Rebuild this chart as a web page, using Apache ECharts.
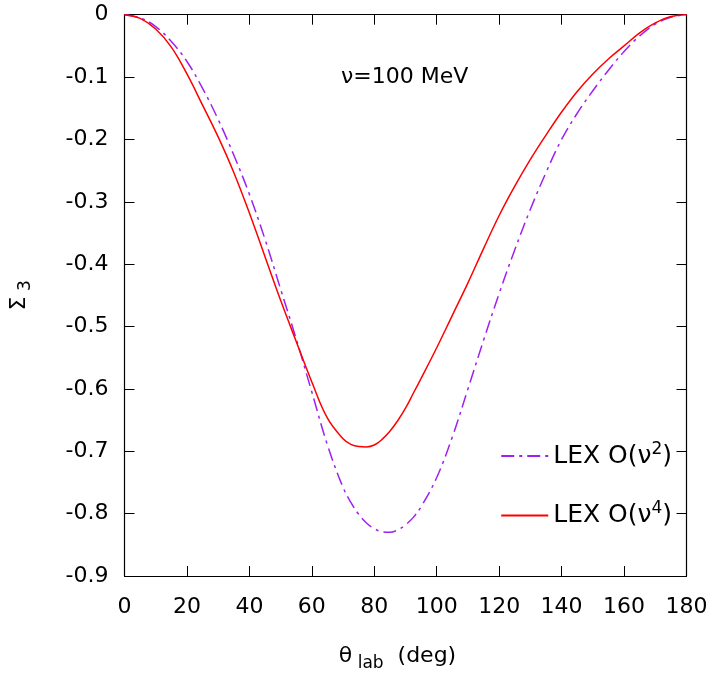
<!DOCTYPE html>
<html>
<head>
<meta charset="utf-8">
<script src="https://cdn.jsdelivr.net/npm/echarts@6/dist/echarts.min.js"></script>
<style>html,body{margin:0;padding:0;background:#fff}#c{width:714px;height:677px}</style>
</head>
<body>
<div id="c"></div>
<script>
// theta_lab (deg)
const theta = [0,5,10,15,20,25,30,35,40,45,50,55,60,65,70,72.5,75,77.5,80,82.5,85,87.5,90,92.5,95,100,105,110,115,120,125,130,135,140,145,150,155,160,165,170,175,180];
// LEX O(nu^2) - purple dash-dot
const lexO2 = [0,-0.005,-0.019,-0.043,-0.075,-0.118,-0.168,-0.225,-0.288,-0.36,-0.44,-0.52,-0.605,-0.69,-0.758,-0.782,-0.801,-0.815,-0.824,-0.829,-0.830,-0.826,-0.818,-0.806,-0.789,-0.742,-0.677,-0.600,-0.522,-0.447,-0.377,-0.312,-0.253,-0.2,-0.158,-0.122,-0.089,-0.059,-0.034,-0.015,-0.004,0];
// LEX O(nu^4) - red solid
const lexO4 = [0,-0.006,-0.023,-0.052,-0.095,-0.145,-0.196,-0.253,-0.318,-0.388,-0.458,-0.524,-0.589,-0.647,-0.680,-0.689,-0.6925,-0.693,-0.690,-0.681,-0.668,-0.651,-0.631,-0.607,-0.583,-0.534,-0.482,-0.43,-0.375,-0.322,-0.275,-0.232,-0.193,-0.156,-0.123,-0.095,-0.071,-0.050,-0.029,-0.013,-0.003,0];
const seriesNames = ['LEX O(ν^2)','LEX O(ν^4)'];
const xTicks = {min:0,max:180,interval:20};
const yTicks = {min:-0.9,max:0,interval:0.1};
const annotation = 'ν=100 MeV';

const FONT = 'DejaVu Sans';
const FS = 22;
const chart = echarts.init(document.getElementById('c'));
const pair = (xs, ys) => xs.map((x,i)=>[x, ys[i]]);
const tickStyle = {inside:true,length:10,lineStyle:{color:'#000',width:1}};
const axisLineStyle = {show:true,onZero:false,lineStyle:{color:'#000',width:1.2}};
chart.setOption({
  animation:false,
  backgroundColor:'#fff',
  grid:{left:123.5,right:27.5,top:14.7,bottom:100.7,containLabel:false},
  title:{text:annotation,left:336,top:61,textStyle:{fontFamily:FONT,fontSize:FS,fontWeight:'normal',color:'#000'}},
  xAxis:[
    {type:'value',min:xTicks.min,max:xTicks.max,interval:xTicks.interval,position:'bottom',
     axisLine:axisLineStyle,axisTick:tickStyle,splitLine:{show:false},
     axisLabel:{margin:20,fontFamily:FONT,fontSize:FS,color:'#000'},
     name:'{a|θ}{b| lab}{a|  (deg)}',nameLocation:'middle',nameGap:65,
     nameTextStyle:{fontFamily:FONT,fontSize:FS,color:'#000',padding:[0,16,0,0],
       rich:{a:{fontFamily:FONT,fontSize:FS,color:'#000'},b:{fontFamily:FONT,fontSize:17,color:'#000',padding:[14,0,0,0]}}}},
    {type:'value',min:xTicks.min,max:xTicks.max,interval:xTicks.interval,position:'top',
     axisLine:axisLineStyle,axisTick:tickStyle,axisLabel:{show:false},splitLine:{show:false}}
  ],
  yAxis:[
    {type:'value',min:yTicks.min,max:yTicks.max,interval:yTicks.interval,position:'left',
     axisLine:axisLineStyle,axisTick:tickStyle,splitLine:{show:false},
     axisLabel:{margin:16,fontFamily:FONT,fontSize:FS,color:'#000',formatter:v=>String(Math.round(v*10)/10)},
     name:'{a|Σ}{b| 3}',nameLocation:'middle',nameGap:90,
     nameTextStyle:{fontFamily:FONT,fontSize:FS,color:'#000',
       rich:{a:{fontFamily:FONT,fontSize:FS,color:'#000'},b:{fontFamily:FONT,fontSize:17,color:'#000',padding:[14,0,0,0]}}}},
    {type:'value',min:yTicks.min,max:yTicks.max,interval:yTicks.interval,position:'right',
     axisLine:axisLineStyle,axisTick:tickStyle,axisLabel:{show:false},splitLine:{show:false}}
  ],
  legend:{orient:'vertical',right:37,top:436,itemWidth:47,itemHeight:14,itemGap:32,
    data:seriesNames,itemStyle:{opacity:0},
    formatter:n=>n.replace(/\^(\d)/,'{s|$1}').replace(/^(.*?)\{/,'{t|$1}{'),
    textStyle:{fontFamily:FONT,fontSize:25,color:'#000',
      rich:{t:{fontFamily:FONT,fontSize:25,color:'#000'},s:{fontFamily:FONT,fontSize:17,color:'#000',padding:[0,0,13,0]}}}},
  series:[
    {name:seriesNames[0],type:'line',data:pair(theta,lexO2),smooth:0.4,symbol:'none',
     lineStyle:{color:'#a020f0',width:1.5,type:[13,5,3,5]},itemStyle:{color:'#a020f0'}},
    {name:seriesNames[1],type:'line',data:pair(theta,lexO4),smooth:0.4,symbol:'none',
     lineStyle:{color:'#ff0000',width:1.5,type:'solid'},itemStyle:{color:'#ff0000'}}
  ]
});
</script>
</body>
</html>
